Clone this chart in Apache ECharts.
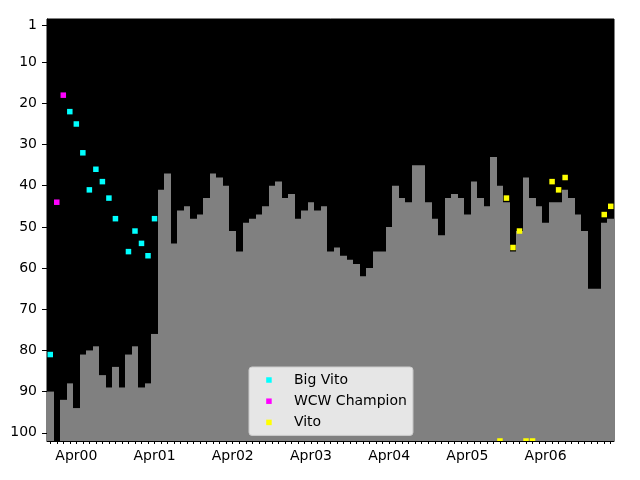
<!DOCTYPE html>
<html><head><meta charset="utf-8">
<script src="https://cdn.jsdelivr.net/npm/echarts@6/dist/echarts.min.js"></script>
<style>html,body{margin:0;padding:0;background:#fff}#c{width:640px;height:480px}</style>
</head><body><div id="c"></div>
<script>
const months = ['Dec99',
  'Jan00','Feb00','Mar00','Apr00','May00','Jun00','Jul00','Aug00','Sep00','Oct00','Nov00','Dec00',
  'Jan01','Feb01','Mar01','Apr01','May01','Jun01','Jul01','Aug01','Sep01','Oct01','Nov01','Dec01',
  'Jan02','Feb02','Mar02','Apr02','May02','Jun02','Jul02','Aug02','Sep02','Oct02','Nov02','Dec02',
  'Jan03','Feb03','Mar03','Apr03','May03','Jun03','Jul03','Aug03','Sep03','Oct03','Nov03','Dec03',
  'Jan04','Feb04','Mar04','Apr04','May04','Jun04','Jul04','Aug04','Sep04','Oct04','Nov04','Dec04',
  'Jan05','Feb05','Mar05','Apr05','May05','Jun05','Jul05','Aug05','Sep05','Oct05','Nov05','Dec05',
  'Jan06','Feb06','Mar06','Apr06','May06','Jun06','Jul06','Aug06','Sep06','Oct06','Nov06','Dec06',
  'Jan07','Feb07'];
const ranks = [90,
  null,92,88,94,81,80,79,86,89,84,89,81,
  79,89,88,76,41,37,54,46,45,48,47,43,
  37,38,40,51,56,49,48,47,45,40,39,43,
  42,48,46,44,46,45,56,55,57,58,59,62,
  60,56,56,50,40,43,44,35,35,44,48,52,
  43,42,43,47,39,43,45,33,40,44,56,51,
  38,43,45,49,44,44,41,43,47,51,65,65,
  49,48];
const bigVitoMonths = ['Dec99','Mar00','Apr00','May00','Jun00','Jul00','Aug00','Sep00','Oct00','Dec00','Jan01','Feb01','Mar01','Apr01'];
const bigVitoRanks  = [81,22,25,32,41,36,39,43,48,56,51,54,57,48];
const wcwMonths = ['Jan00','Feb00'];
const wcwRanks  = [44,18];
const vitoMonths = ['Sep05','Oct05','Nov05','Dec05','Jan06','Feb06','May06','Jun06','Jul06','Jan07','Feb07'];
const vitoRanks  = [102,43,55,51,102,102,39,41,38,47,45];
const yTicks = [1,10,20,30,40,50,60,70,80,90,100];
const Y_MIN = -0.5, Y_MAX = 102;

const FONT = 'DejaVu Sans';

function renderBar(params, api) {
  const i = api.value(0), v = api.value(1);
  const w = api.size([1, 0])[0];
  const c = api.coord([i, v]);
  const b = api.coord([i, Y_MAX]);
  const x0 = Math.round(c[0] - w / 2), x1 = Math.round(c[0] + w / 2);
  return {type: 'rect', shape: {x: x0, y: c[1], width: x1 - x0, height: b[1] - c[1]},
          style: {fill: '#808080'}};
}
function markerRenderer(color) {
  return function (params, api) {
    const c = api.coord([api.value(0), api.value(1)]);
    const s = 5.5;
    return {type: 'rect', shape: {x: c[0] - s / 2, y: c[1] - s / 2, width: s, height: s},
            style: {fill: color}};
  };
}
function pairs(ms, vs) { return ms.map((m, k) => [m, vs[k]]); }

const barData = months.map((m, i) => ranks[i] == null ? null : [m, ranks[i]]).filter(Boolean);

const chart = echarts.init(document.getElementById('c'), null, {renderer: 'canvas'});
chart.setOption({
  animation: false,
  backgroundColor: '#fff',
  grid: {left: 47, right: 26, top: 19, bottom: 39, show: true, backgroundColor: '#000',
         borderColor: '#000', borderWidth: 1, containLabel: false},
  xAxis: {
    type: 'category', data: months, boundaryGap: true,
    axisLine: {show: true, onZero: false, lineStyle: {color: '#000', width: 1}},
    axisTick: {show: true, interval: 0, alignWithLabel: true, length: 3, lineStyle: {color: '#000'}},
    axisLabel: {interval: (idx, val) => val.indexOf('Apr') === 0, margin: 8,
                fontSize: 14, color: '#000', fontFamily: FONT},
    splitLine: {show: false}
  },
  yAxis: {
    type: 'value', inverse: true, min: Y_MIN, max: Y_MAX,
    axisLine: {show: true, onZero: false, lineStyle: {color: '#000', width: 1}},
    axisTick: {show: true, customValues: yTicks, length: 5, lineStyle: {color: '#000'}},
    axisLabel: {customValues: yTicks, margin: 10, fontSize: 14, color: '#000', fontFamily: FONT},
    splitLine: {show: false}
  },
  legend: {
    orient: 'vertical', left: 249, top: 367,
    data: ['Big Vito', 'WCW Champion', 'Vito'],
    icon: 'path://M0,0L10,0L10,10L0,10Z', symbolKeepAspect: true,
    itemWidth: 40, itemHeight: 5.5, itemGap: 7.2,
    padding: [6, 6, 6, 17.2],
    backgroundColor: 'rgba(255,255,255,0.8)', borderColor: '#cccccc', borderWidth: 1, borderRadius: 3,
    textStyle: {fontSize: 14, lineHeight: 14, color: '#000', fontFamily: FONT},
    selectedMode: false
  },
  series: [
    {type: 'custom', name: 'rank', data: barData, encode: {x: 0, y: 1}, renderItem: renderBar, clip: true, z: 1},
    {type: 'custom', name: 'Big Vito', data: pairs(bigVitoMonths, bigVitoRanks), encode: {x: 0, y: 1},
     renderItem: markerRenderer('#00ffff'), itemStyle: {color: '#00ffff'}, clip: true, z: 3},
    {type: 'custom', name: 'WCW Champion', data: pairs(wcwMonths, wcwRanks), encode: {x: 0, y: 1},
     renderItem: markerRenderer('#ff00ff'), itemStyle: {color: '#ff00ff'}, clip: true, z: 3},
    {type: 'custom', name: 'Vito', data: pairs(vitoMonths, vitoRanks), encode: {x: 0, y: 1},
     renderItem: markerRenderer('#ffff00'), itemStyle: {color: '#ffff00'}, clip: true, z: 3}
  ]
});
</script></body></html>
